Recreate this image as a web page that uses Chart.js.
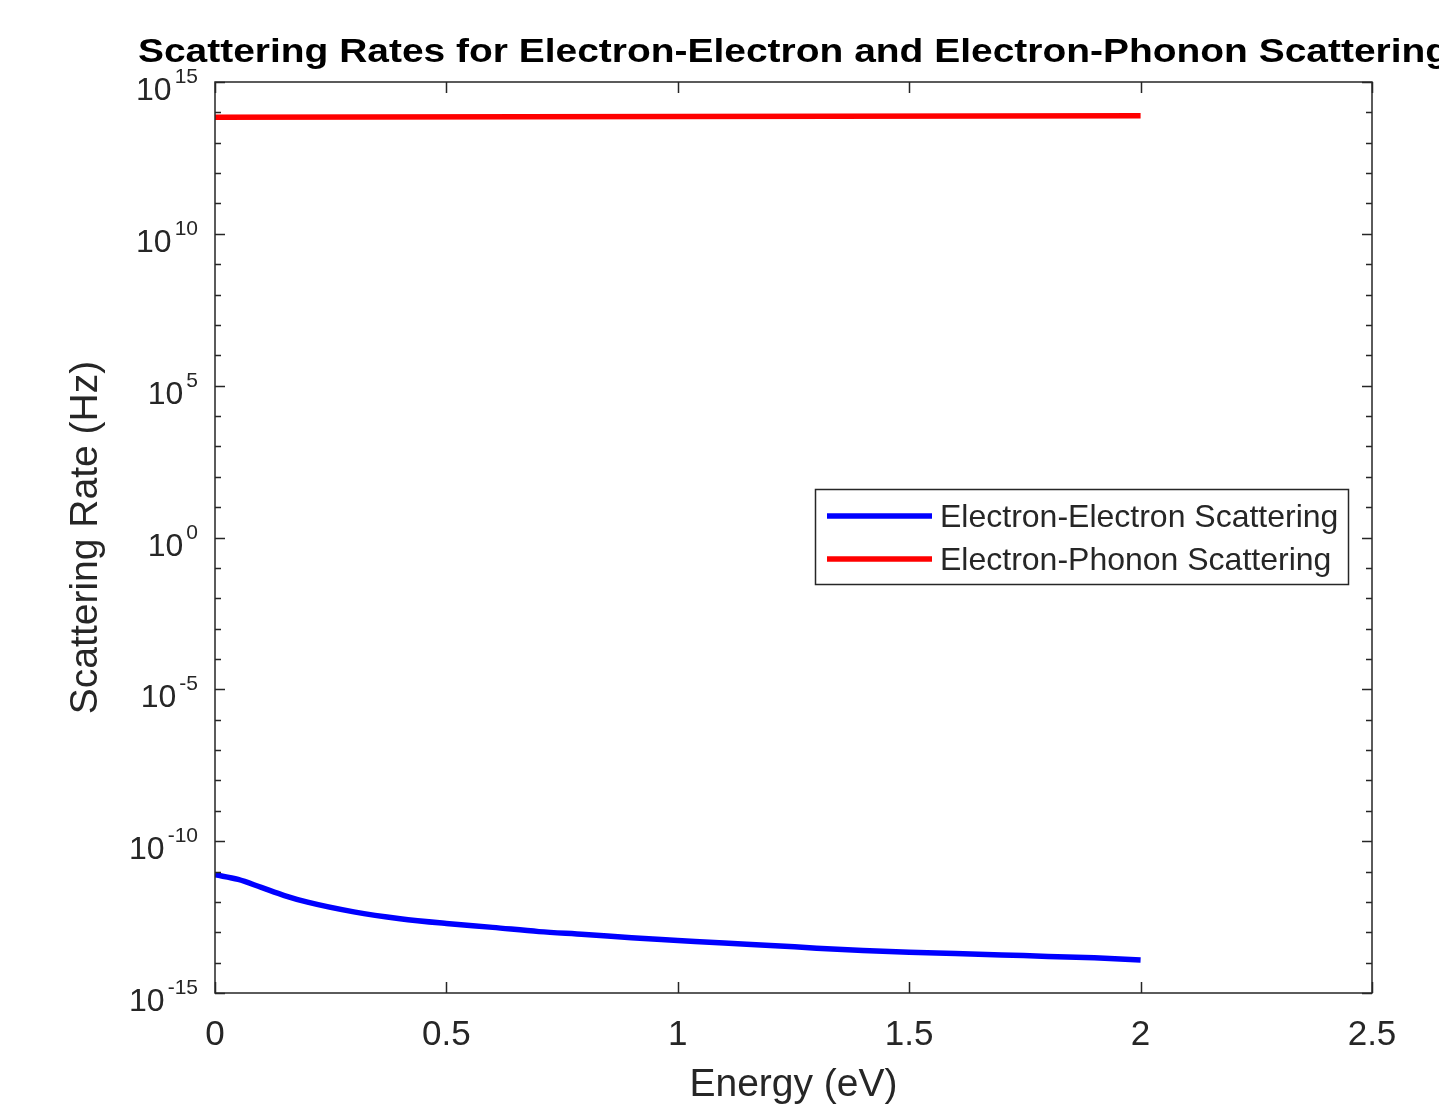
<!DOCTYPE html>
<html>
<head>
<meta charset="utf-8">
<script src="https://cdn.jsdelivr.net/npm/chart.js@4.4.1/dist/chart.umd.min.js"></script>
<style>
  html, body { margin: 0; padding: 0; background: #fff; }
</style>
</head>
<body>
<canvas id="rateChart" width="1439" height="1113"></canvas>
<script>
// values
const energy = [0, 0.05, 0.1, 0.15, 0.2, 0.3, 0.4, 0.5, 0.6, 0.7, 0.8, 0.9, 1.0,
  1.1, 1.2, 1.3, 1.4, 1.5, 1.6, 1.7, 1.8, 1.9, 2.0];
const eeRate = [7.8e-12, 5.5e-12, 3.0e-12, 1.62e-12, 9.8e-13, 4.7e-13, 2.8e-13, 1.95e-13,
  1.45e-13, 1.05e-13, 8.5e-14, 6.6e-14, 5.4e-14, 4.4e-14, 3.7e-14, 3.0e-14,
  2.5e-14, 2.2e-14, 2.0e-14, 1.8e-14, 1.6e-14, 1.45e-14, 1.23e-14];
const phononEnergy = [0, 1, 2];
const phononRate = [6.9e13, 7.3e13, 7.8e13];

const xTicks = [0, 0.5, 1, 1.5, 2, 2.5];
const yExponents = [15, 10, 5, 0, -5, -10, -15];

const seriesNames = ["Electron-Electron Scattering", "Electron-Phonon Scattering"];
const titleText = "Scattering Rates for Electron-Electron and Electron-Phonon Scattering";
const xTitle = "Energy (eV)";
const yTitle = "Scattering Rate (Hz)";

const ink = "#262626";
const font = "'Liberation Sans', Arial, Helvetica, sans-serif";

function toPoints(xs, ys) {
  return xs.map((x, i) => ({ x: x, y: ys[i] }));
}

// box, inward ticks, y labels with exponents, titles and legend
const matlabAxes = {
  id: "matlabAxes",
  afterDraw(chart) {
    const ctx = chart.ctx;
    const area = chart.chartArea;
    const xs = chart.scales.x;
    const ys = chart.scales.y;
    const midX = (area.left + area.right) / 2;
    ctx.save();

    ctx.strokeStyle = ink;
    ctx.lineWidth = 1.5;
    ctx.strokeRect(area.left, area.top, area.right - area.left, area.bottom - area.top);

    ctx.beginPath();
    xTicks.forEach(v => {
      const px = Math.round(xs.getPixelForValue(v)) + 0.5;
      ctx.moveTo(px, area.bottom);
      ctx.lineTo(px, area.bottom - 11);
      ctx.moveTo(px, area.top);
      ctx.lineTo(px, area.top + 11);
    });
    for (let e = -15; e <= 15; e++) {
      const py = Math.round(ys.getPixelForValue(Math.pow(10, e))) + 0.5;
      const len = e % 5 === 0 ? 10 : 6;
      ctx.moveTo(area.left, py);
      ctx.lineTo(area.left + len, py);
      ctx.moveTo(area.right, py);
      ctx.lineTo(area.right - len, py);
    }
    ctx.stroke();

    // y tick labels: 10 with raised exponent
    ctx.fillStyle = ink;
    ctx.textBaseline = "alphabetic";
    yExponents.forEach(e => {
      const py = ys.getPixelForValue(Math.pow(10, e));
      const expStr = String(e);
      ctx.font = "21px " + font;
      const ew = ctx.measureText(expStr).width;
      const right = 198;
      ctx.textAlign = "left";
      ctx.fillText(expStr, right - ew, py + 1);
      ctx.font = "32px " + font;
      ctx.textAlign = "right";
      ctx.fillText("10", right - ew - 3, py + 18);
    });

    // title, widened like the original
    ctx.save();
    ctx.font = "bold 33px " + font;
    ctx.textAlign = "center";
    ctx.fillStyle = "#000";
    ctx.translate(midX, 62);
    ctx.scale(1.18, 1);
    ctx.fillText(titleText, 0, 0);
    ctx.restore();

    // axis titles
    ctx.fillStyle = ink;
    ctx.textAlign = "center";
    ctx.font = "39px " + font;
    ctx.fillText(xTitle, midX, 1096);
    ctx.save();
    ctx.translate(97, (area.top + area.bottom) / 2);
    ctx.rotate(-Math.PI / 2);
    ctx.fillText(yTitle, 0, 0);
    ctx.restore();

    // legend
    const lx = 815, ly = 489, lw = 533, lh = 95;
    ctx.fillStyle = "#fff";
    ctx.fillRect(lx, ly, lw, lh);
    ctx.strokeStyle = ink;
    ctx.lineWidth = 1.5;
    ctx.strokeRect(lx + 0.5, ly + 0.5, lw, lh);
    const rows = [516, 559];
    chart.data.datasets.forEach((ds, i) => {
      ctx.strokeStyle = ds.borderColor;
      ctx.lineWidth = 5.5;
      ctx.beginPath();
      ctx.moveTo(827, rows[i]);
      ctx.lineTo(932, rows[i]);
      ctx.stroke();
      ctx.fillStyle = ink;
      ctx.font = "32px " + font;
      ctx.textAlign = "left";
      ctx.textBaseline = "middle";
      ctx.fillText(ds.label, 940, rows[i] + 2);
    });

    ctx.restore();
  }
};

new Chart(document.getElementById("rateChart"), {
  type: "scatter",
  data: {
    datasets: [
      {
        label: seriesNames[0],
        data: toPoints(energy, eeRate),
        showLine: true,
        borderColor: "#0000ff",
        borderWidth: 5.5,
        pointRadius: 0,
        cubicInterpolationMode: "monotone"
      },
      {
        label: seriesNames[1],
        data: toPoints(phononEnergy, phononRate),
        showLine: true,
        borderColor: "#ff0000",
        borderWidth: 5.5,
        pointRadius: 0
      }
    ]
  },
  options: {
    responsive: false,
    animation: false,
    layout: { padding: { left: 0, right: 67, top: 82, bottom: 0 } },
    plugins: {
      legend: { display: false },
      title: { display: false },
      tooltip: { enabled: false }
    },
    scales: {
      x: {
        type: "linear",
        min: 0,
        max: 2.5,
        afterBuildTicks: scale => { scale.ticks = xTicks.map(v => ({ value: v })); },
        grid: { display: false, drawTicks: false },
        border: { display: false },
        ticks: {
          color: ink,
          padding: 21,
          maxRotation: 0,
          autoSkip: false,
          font: { family: font, size: 35 },
          callback: v => String(v)
        },
        afterFit: scale => { scale.height = 120; }
      },
      y: {
        type: "logarithmic",
        min: 1e-15,
        max: 1e15,
        grid: { display: false, drawTicks: false },
        border: { display: false },
        ticks: { display: false },
        afterFit: scale => { scale.width = 215; }
      }
    }
  },
  plugins: [matlabAxes]
});
</script>
</body>
</html>
